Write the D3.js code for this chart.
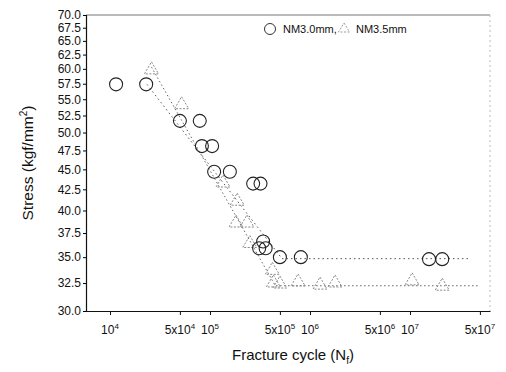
<!DOCTYPE html>
<html><head><meta charset="utf-8">
<script src="https://cdn.jsdelivr.net/npm/d3@7"></script>
<style>
body{margin:0;background:#fff;}
text{font-family:"Liberation Sans",Arial,sans-serif;fill:#111;}
</style></head>
<body><svg id="c" width="506" height="372"></svg>
<script>
// Data
const circleCycles = [1.15e4, 2.3e4, 5.0e4, 7.9e4, 8.3e4, 1.05e5, 1.1e5, 1.58e5, 2.7e5, 3.2e5, 3.4e5, 3.1e5, 3.6e5, 5.0e5, 8.1e5, 1.55e7, 2.1e7];
const circleStress = [57.4, 57.4, 51.7, 51.7, 48.1, 48.1, 44.7, 44.7, 43.2, 43.2, 36.6, 35.9, 35.9, 35.0, 35.0, 34.8, 34.8];
const triCycles = [2.6e4, 5.2e4, 1.35e5, 1.87e5, 1.82e5, 2.34e5, 2.5e5, 4.2e5, 4.3e5, 5.0e5, 7.6e5, 1.26e6, 1.78e6, 1.05e7, 2.1e7];
const triStress = [60.0, 54.3, 43.4, 41.2, 38.7, 38.7, 36.5, 33.8, 32.6, 32.5, 32.7, 32.4, 32.6, 32.8, 32.3];
const circleFitCycles = [2.34e4, 5.25e5, 4.0e7];
const circleFitStress = [57.4, 34.85, 34.85];
const triFitCycles = [2.6e4, 4.5e5, 5.0e7];
const triFitStress = [60.3, 32.25, 32.25];
const yTicks = [30,32.5,35,37.5,40,42.5,45,47.5,50,52.5,55,57.5,60,62.5,65,67.5,70];
const xTicks = [1e4,5e4,1e5,5e5,1e6,5e6,1e7,5e7];
const xTickLabels = [["","10","4"],["5x","10","4"],["","10","5"],["5x","10","5"],["","10","6"],["5x","10","6"],["","10","7"],["5x","10","7"]];
const seriesNames = ["NM3.0mm,", "NM3.5mm"];

const svg = d3.select("#c");
const L=86, R=490, T=15, B=311;
const x = d3.scaleLog().domain([Math.pow(10,3.76), Math.pow(10,7.8)]).range([L,R]);
const y = d3.scaleLog().domain([30,70]).range([B,T]);

// frame top & right
svg.append("line").attr("x1",L).attr("x2",R).attr("y1",T).attr("y2",T).attr("stroke","#777").attr("stroke-width",1.2);
svg.append("line").attr("x1",R).attr("x2",R).attr("y1",T).attr("y2",B).attr("stroke","#bbb").attr("stroke-width",1).attr("stroke-dasharray","2,3");

// y axis
const ya = svg.append("g").attr("transform",`translate(${L},0)`)
  .call(d3.axisLeft(y).tickValues(yTicks).tickFormat(d3.format(".1f")).tickSize(3).tickPadding(2));
ya.select(".domain").attr("stroke","#111").attr("stroke-width",1.2);
ya.selectAll("text").attr("font-size",12).style("font-family","'Liberation Sans',Arial,sans-serif").attr("fill","#111");

// x axis
const xa = svg.append("g").attr("transform",`translate(0,${B})`)
  .call(d3.axisBottom(x).tickValues(xTicks).tickFormat("").tickSize(4).tickSizeOuter(0));
xa.select(".domain").attr("stroke","#111").attr("stroke-width",1.2);
xa.selectAll("line").attr("stroke","#111");
xTicks.forEach((v,i)=>{
  const t = svg.append("text").attr("x",x(v)).attr("y",B+23).attr("text-anchor","middle").attr("font-size",12);
  const lab = xTickLabels[i];
  if(lab[0]) t.append("tspan").text(lab[0]);
  t.append("tspan").text(lab[1]);
  t.append("tspan").attr("dy",-5).attr("font-size",8).text(lab[2]);
});

// fit lines
const line = d3.line().x(d=>x(d[0])).y(d=>y(d[1]));
svg.append("path").datum(circleFitCycles.map((c,i)=>[c,circleFitStress[i]]))
  .attr("d",line).attr("fill","none").attr("stroke","#555").attr("stroke-width",1).attr("stroke-dasharray","1.5,3");
svg.append("path").datum(triFitCycles.map((c,i)=>[c,triFitStress[i]]))
  .attr("d",line).attr("fill","none").attr("stroke","#666").attr("stroke-width",1).attr("stroke-dasharray","1.5,2.5");

// triangles
const triPath = "M0,-7L7,5L-7,5Z";
svg.append("g").selectAll("path").data(triCycles.map((c,i)=>[c,triStress[i]])).join("path")
  .attr("d",triPath).attr("transform",d=>`translate(${x(d[0])},${y(d[1])})`)
  .attr("fill","none").attr("stroke","#888").attr("stroke-width",1).attr("stroke-dasharray","2,1.5");

// circles
svg.append("g").selectAll("circle").data(circleCycles.map((c,i)=>[c,circleStress[i]])).join("circle")
  .attr("cx",d=>x(d[0])).attr("cy",d=>y(d[1])).attr("r",6.5)
  .attr("fill","none").attr("stroke","#222").attr("stroke-width",1.1);

// legend
svg.append("circle").attr("cx",270).attr("cy",29).attr("r",5.5).attr("fill","none").attr("stroke","#333").attr("stroke-width",1);
svg.append("text").attr("x",283).attr("y",33).attr("font-size",11).text(seriesNames[0]);
svg.append("path").attr("d","M0,-5L5.5,4L-5.5,4Z").attr("transform","translate(344,28)")
  .attr("fill","none").attr("stroke","#999").attr("stroke-width",1).attr("stroke-dasharray","2,1.5");
svg.append("text").attr("x",356).attr("y",33).attr("font-size",11).text(seriesNames[1]);

// axis titles
const yt = svg.append("text").attr("transform","translate(33,163) rotate(-90)").attr("text-anchor","middle").attr("font-size",15.5);
yt.append("tspan").text("Stress (kgf/mm");
yt.append("tspan").attr("dy",-6).attr("font-size",10).text("2");
yt.append("tspan").attr("dy",6).text(")");
const xt = svg.append("text").attr("x",293).attr("y",360).attr("text-anchor","middle").attr("font-size",15);
xt.append("tspan").text("Fracture cycle (N");
xt.append("tspan").attr("dy",4).attr("font-size",10).text("f");
xt.append("tspan").attr("dy",-4).text(")");
</script></body></html>
